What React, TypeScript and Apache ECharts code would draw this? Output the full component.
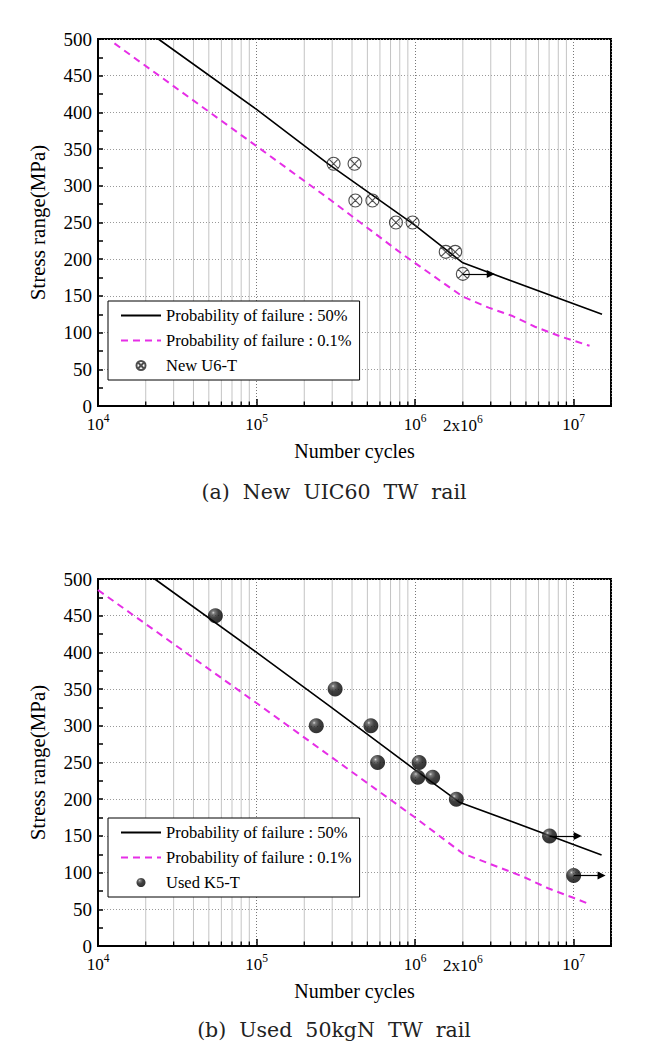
import React, { useEffect, useRef } from "react";
import * as echarts from "echarts";

// ---------- data ----------
const X_MIN = 1e4;
const X_MAX = 1.72e7;
const Y_MIN = 0;
const Y_MAX = 500;
const Y_STEP = 50;

const LABEL_50 = "Probability of failure : 50%";
const LABEL_01 = "Probability of failure : 0.1%";

// (a) New UIC60 TW rail
const topSolidX = [2.4e4, 1e5, 2.83e5, 1e6, 2e6, 1.51e7];
const topSolidY = [500, 404, 330, 246, 195, 125];
const topDashX = [1.27e4, 1e5, 2.83e5, 8.3e5, 2e6, 2.91e6, 4.07e6, 5.7e6, 8.2e6, 1.26e7];
const topDashY = [494, 354, 283, 207, 149, 134, 123, 108, 95, 82];
const topPtsX = [3.06e5, 4.15e5, 4.2e5, 5.38e5, 7.57e5, 9.64e5, 1.56e6, 1.79e6, 2e6];
const topPtsY = [330, 330, 280, 280, 250, 250, 210, 210, 180];
const topRunFromX = [2e6];
const topRunToX = [3e6];
const topRunY = [180];
const topSeriesName = "New U6-T";
const topCaption = "(a)  New  UIC60  TW  rail";

// (b) Used 50kgN TW rail
const botSolidX = [2.28e4, 1e5, 2.92e5, 1e6, 1.9e6, 1.5e7];
const botSolidY = [500, 400, 326, 240, 196, 124];
const botDashX = [1e4, 1e5, 1e6, 2e6, 4.74e6, 6.84e6, 9.86e6, 1.26e7];
const botDashY = [485, 331, 175, 126, 95, 79, 66, 57];
const botPtsX = [5.5e4, 2.38e5, 3.13e5, 5.26e5, 5.8e5, 1.06e6, 1.04e6, 1.29e6, 1.82e6, 7.05e6, 1e7];
const botPtsY = [450, 300, 350, 300, 250, 250, 230, 230, 200, 150, 96];
const botRunFromX = [7.05e6, 1e7];
const botRunToX = [1.06e7, 1.5e7];
const botRunY = [150, 96];
const botSeriesName = "Used K5-T";
const botCaption = "(b)  Used  50kgN  TW  rail";

// axis tick positions
const decades = [1e4, 1e5, 1e6];
const minorMultipliers = [2, 3, 4, 5, 6, 7, 8, 9];
const extraLabelValue = 2e6;
const extraLabelText = "{b|2x10}{s|6}";

// ---------- styles ----------
const SERIF = "Liberation Serif";
const CAPTION_FONT = "DejaVu Serif";
const MAGENTA = "#e62ee6";
const circleX =
  "path://M20,10A10,10,0,1,1,0,10A10,10,0,1,1,20,10ZM2.93,2.93L17.07,17.07M17.07,2.93L2.93,17.07";
const sphere = {
  type: "radial",
  x: 0.36,
  y: 0.3,
  r: 0.7,
  colorStops: [
    { offset: 0, color: "#d0d0d0" },
    { offset: 0.15, color: "#5a5a5a" },
    { offset: 0.5, color: "#111" },
    { offset: 1, color: "#000" },
  ],
};

const supRich = {
  b: { fontSize: 17, fontFamily: SERIF, color: "#000", padding: [4, 0, 0, 0] },
  s: { fontSize: 11.5, fontFamily: SERIF, color: "#000", verticalAlign: "top" },
};

const pairs = (xs: number[], ys: number[]) => xs.map((x, i) => [x, ys[i]]);

const decadeLabel = (v: number) => {
  const l = Math.log10(v);
  const e = Math.round(l);
  if (Math.abs(l - e) > 1e-6) return "";
  return `{b|10}{s|${e}}`;
};

export default function App() {
  const ref = useRef<HTMLDivElement>(null);

  useEffect(() => {
    const chart = echarts.init(ref.current!, null, { renderer: "svg" });

    const grids = [
      { left: 98, top: 39, width: 513, height: 367 },
      { left: 98, top: 579, width: 513, height: 367 },
    ];

    const xAxis = (gi: number) => ({
      type: "log",
      logBase: 10,
      gridIndex: gi,
      min: X_MIN,
      max: X_MAX,
      name: "Number cycles",
      nameLocation: "middle",
      nameGap: 35,
      nameTextStyle: { fontFamily: SERIF, fontSize: 20, color: "#000" },
      axisLine: { show: true, onZero: false, lineStyle: { color: "#000", width: 2 } },
      axisTick: { show: true, inside: true, length: 7, lineStyle: { color: "#000", width: 1.5 } },
      axisLabel: { margin: 6, formatter: decadeLabel, rich: supRich, hideOverlap: false },
      splitLine: { show: true, lineStyle: { color: "#777", type: [1, 2], width: 1 } },
    });

    const yAxis = (gi: number) => ({
      type: "value",
      gridIndex: gi,
      min: Y_MIN,
      max: Y_MAX,
      interval: Y_STEP,
      name: "Stress range(MPa)",
      nameLocation: "middle",
      nameGap: 50,
      nameTextStyle: { fontFamily: SERIF, fontSize: 21, color: "#000" },
      axisLine: { show: true, onZero: false, lineStyle: { color: "#000", width: 2 } },
      axisTick: { show: true, inside: true, length: 5, lineStyle: { color: "#000", width: 1.5 } },
      minorTick: { show: true, splitNumber: 2, length: 5, lineStyle: { color: "#000", width: 1.5 } },
      axisLabel: { margin: 6, color: "#000", fontFamily: SERIF, fontSize: 19 },
      splitLine: { show: true, lineStyle: { color: "#999", type: [1, 2], width: 1 } },
    });

    const runouts = (fx: number[], tx: number[], ys: number[]) => ({
      silent: true,
      symbol: ["none", "triangle"],
      symbolSize: 8,
      label: { show: false },
      lineStyle: { color: "#000", width: 1.2, type: "solid" },
      data: fx.map((x, i) => [{ coord: [x, ys[i]] }, { coord: [tx[i], ys[i]] }]),
    });

    const seriesFor = (
      gi: number,
      sx: number[], sy: number[], dx: number[], dy: number[],
      px: number[], py: number[], name: string, sym: any, symSize: number, itemStyle: any,
      rf: number[], rt: number[], ry: number[]
    ) => [
      {
        name: LABEL_50,
        type: "line",
        xAxisIndex: gi,
        yAxisIndex: gi,
        data: pairs(sx, sy),
        symbol: "none",
        lineStyle: { color: "#000", width: 1.6 },
        itemStyle: { color: "#000" },
        z: 3,
      },
      {
        name: LABEL_01,
        type: "line",
        xAxisIndex: gi,
        yAxisIndex: gi,
        data: pairs(dx, dy),
        symbol: "none",
        lineStyle: { color: MAGENTA, width: 2, type: [7, 5] },
        itemStyle: { color: MAGENTA },
        z: 3,
      },
      {
        name,
        type: "scatter",
        xAxisIndex: gi,
        yAxisIndex: gi,
        data: pairs(px, py),
        symbol: sym,
        symbolSize: symSize,
        itemStyle,
        z: 4,
        markLine: runouts(rf, rt, ry),
      },
    ];

    const legend = (top: number, name: string) => ({
      orient: "vertical",
      left: 108,
      top,
      data: [
        { name: LABEL_50, itemStyle: { opacity: 0 } },
        { name: LABEL_01, itemStyle: { opacity: 0 } },
        { name },
      ],
      itemWidth: 40,
      itemHeight: 9,
      itemGap: 8,
      padding: [6, 8, 6, 12],
      borderColor: "#000",
      borderWidth: 1,
      backgroundColor: "#fff",
      selectedMode: false,
      textStyle: { fontFamily: SERIF, fontSize: 16.5, color: "#000" },
    });

    chart.setOption({
      animation: false,
      backgroundColor: "#fff",
      textStyle: { fontFamily: SERIF },
      grid: grids.map((g) => ({ ...g, show: true, borderColor: "#000", borderWidth: 2, backgroundColor: "transparent" })),
      xAxis: [xAxis(0), xAxis(1)],
      yAxis: [yAxis(0), yAxis(1)],
      legend: [legend(301, topSeriesName), legend(818, botSeriesName)],
      series: [
        ...seriesFor(0, topSolidX, topSolidY, topDashX, topDashY, topPtsX, topPtsY, topSeriesName, circleX, 13,
          { color: "rgba(0,0,0,0)", borderColor: "#222", borderWidth: 1.1 }, topRunFromX, topRunToX, topRunY),
        ...seriesFor(1, botSolidX, botSolidY, botDashX, botDashY, botPtsX, botPtsY, botSeriesName, "circle", 15,
          { color: sphere }, botRunFromX, botRunToX, botRunY),
      ],
    });

    // minor grid lines, minor ticks and the 2x10^6 label, placed through the axes' scales
    const graphics: any[] = [];
    [0, 1].forEach((gi) => {
      decades.forEach((d) => {
        minorMultipliers.forEach((m) => {
          const v = d * m;
          if (v >= X_MAX) return;
          const [px, pb] = chart.convertToPixel({ gridIndex: gi } as any, [v, Y_MIN]) as number[];
          const [, pt] = chart.convertToPixel({ gridIndex: gi } as any, [v, Y_MAX]) as number[];
          graphics.push({
            type: "line",
            z: 1,
            silent: true,
            shape: { x1: px, y1: pt + 1, x2: px, y2: pb - 1 },
            style: { stroke: "#c4c4c4", lineWidth: 1 },
          });
          graphics.push({
            type: "line",
            z: 10,
            silent: true,
            shape: { x1: px, y1: pb, x2: px, y2: pb - 4.5 },
            style: { stroke: "#000", lineWidth: 1.3 },
          });
        });
      });
      const [lx, ly] = chart.convertToPixel({ gridIndex: gi } as any, [extraLabelValue, Y_MIN]) as number[];
      graphics.push({
        type: "text",
        z: 10,
        x: lx,
        y: ly + 7,
        style: {
          text: extraLabelText,
          rich: supRich,
          align: "center",
          verticalAlign: "top",
        },
      });
    });
    graphics.push({
      type: "text",
      x: 334,
      y: 492,
      style: { text: topCaption, font: `20.5px '${CAPTION_FONT}'`, fill: "#222", align: "center", verticalAlign: "middle" },
    });
    graphics.push({
      type: "text",
      x: 334,
      y: 1030,
      style: { text: botCaption, font: `20.5px '${CAPTION_FONT}'`, fill: "#222", align: "center", verticalAlign: "middle" },
    });
    chart.setOption({ graphic: graphics });

    return () => chart.dispose();
  }, []);

  return (
    <div
      ref={ref}
      style={{ position: "absolute", left: 0, top: 0, width: 661, height: 1060, background: "#fff" }}
    />
  );
}
